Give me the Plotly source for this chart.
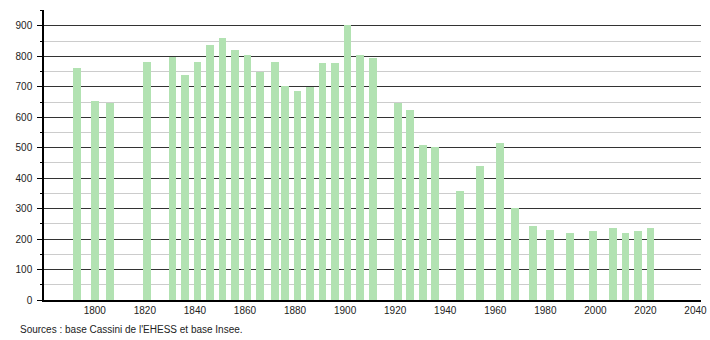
import plotly.graph_objects as go

years = [1793, 1800, 1806, 1821, 1831, 1836, 1841, 1846, 1851, 1856, 1861, 1866,
         1872, 1876, 1881, 1886, 1891, 1896, 1901, 1906, 1911, 1921, 1926, 1931,
         1936, 1946, 1954, 1962, 1968, 1975, 1982, 1990, 1999, 2007, 2012, 2017, 2022]
population = [761, 654, 648, 781, 799, 738, 781, 837, 860, 820, 804, 748,
              781, 702, 687, 698, 778, 777, 903, 805, 794, 647, 624, 508,
              503, 357, 440, 515, 301, 242, 229, 219, 227, 237, 219, 227, 237]
x_ticks = [1800, 1820, 1840, 1860, 1880, 1900, 1920, 1940, 1960, 1980, 2000, 2020, 2040]
y_ticks = [0, 100, 200, 300, 400, 500, 600, 700, 800, 900]
source_text = "Sources : base Cassini de l'EHESS et base Insee."

fig = go.Figure()
fig.add_trace(go.Bar(
    x=years, y=population, width=3.1,
    marker=dict(color="#b2e2b2", line=dict(width=0)),
    hoverinfo="x+y",
))

font_family = "Liberation Sans, Arial, sans-serif"
fig.update_layout(
    width=710, height=340,
    margin=dict(l=44, r=9, t=10, b=40),
    plot_bgcolor="white", paper_bgcolor="white",
    showlegend=False,
    font=dict(family=font_family, size=10, color="#222"),
    xaxis=dict(
        range=[1779.7, 2042.2], tickvals=x_ticks, ticks="", showgrid=False,
        showline=True, linecolor="black", linewidth=1.5, zeroline=False,
        tickfont=dict(size=10, color="#222"), automargin=False,
    ),
    yaxis=dict(
        range=[0, 952], tickvals=y_ticks, ticks="outside", ticklen=5,
        tickcolor="black", tickwidth=1,
        showgrid=True, gridcolor="#333333", gridwidth=1,
        showline=True, linecolor="black", linewidth=1.5, zeroline=False,
        ticklabelstandoff=3, automargin=False,
        minor=dict(dtick=50, tick0=50, ticks="outside", ticklen=2, tickcolor="black",
                   showgrid=True, gridcolor="#cccccc", gridwidth=1),
        tickfont=dict(size=10, color="#222"),
    ),
    bargap=0,
)
fig.add_annotation(
    text=source_text, xref="paper", yref="paper", x=-0.0396, y=-0.1,
    xanchor="left", yanchor="middle", showarrow=False,
    font=dict(size=10, color="#222", family=font_family),
)
fig.write_html("out.html")
